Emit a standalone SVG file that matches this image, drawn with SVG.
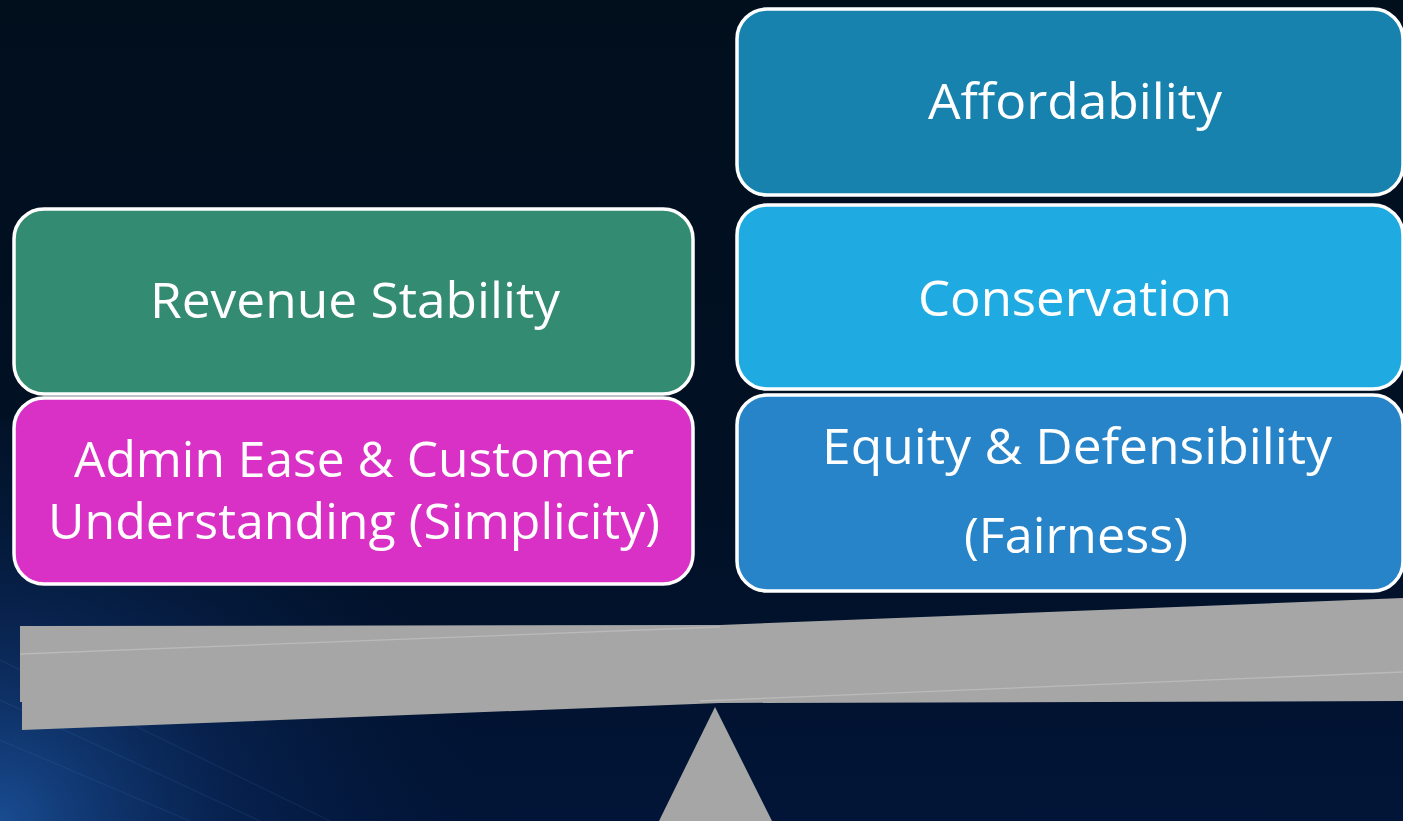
<svg xmlns="http://www.w3.org/2000/svg" width="1403" height="821" viewBox="0 0 1403 821">
<style>
.box{stroke:#ffffff;stroke-width:3.5}
.lbl{font-family:"Open Sans","Noto Sans","Liberation Sans",sans-serif;font-size:50px;fill:#ffffff;text-anchor:middle}
.beam{fill:#a6a6a6}
.edge{stroke:#bababa;stroke-width:1.3;fill:none}
</style>
<defs>
<linearGradient id="bg" x1="0" y1="0" x2="0" y2="1">
<stop offset="0" stop-color="#010f1d"/>
<stop offset="0.6" stop-color="#011024"/>
<stop offset="1" stop-color="#021538"/>
</linearGradient>
<radialGradient id="glow" cx="0" cy="821" r="480" gradientUnits="userSpaceOnUse">
<stop offset="0" stop-color="#1f5aa8" stop-opacity="0.8"/>
<stop offset="0.45" stop-color="#0f3470" stop-opacity="0.45"/>
<stop offset="1" stop-color="#031a40" stop-opacity="0"/>
</radialGradient>
</defs>
<rect x="0" y="0" width="1403" height="821" fill="url(#bg)"/>
<rect x="0" y="420" width="1403" height="401" fill="url(#glow)"/>
<g opacity="0.1" stroke="#5f9be0" stroke-width="1.2">
<line x1="0" y1="700" x2="260" y2="821"/>
<line x1="0" y1="740" x2="190" y2="821"/>
<line x1="0" y1="660" x2="330" y2="821"/>
</g>

<g id="beam">
<polygon class="beam" points="20,626 720,625 1403,598 1403,701 720,703 22,730 22,702 20,702"/>
<line class="edge" x1="20" y1="654" x2="720" y2="627"/>
<line class="edge" x1="700" y1="701" x2="1403" y2="672"/>
</g>
<g id="fulcrum">
<polygon class="beam" points="715,707 772,821 659,821"/>
</g>

<g id="revenue-stability">
<rect class="box" x="14" y="209" width="679" height="185" rx="30" fill="#338b72"/>
<text class="lbl" x="355" y="318" textLength="410" lengthAdjust="spacingAndGlyphs">Revenue Stability</text>
</g>
<g id="admin-ease">
<rect class="box" x="14" y="398" width="679" height="186" rx="30" fill="#d930c5"/>
<text class="lbl" x="354" y="477" textLength="560" lengthAdjust="spacingAndGlyphs">Admin Ease &amp; Customer</text>
<text class="lbl" x="354" y="539" textLength="612" lengthAdjust="spacingAndGlyphs">Understanding (Simplicity)</text>
</g>
<g id="affordability">
<rect class="box" x="737" y="9" width="666" height="186" rx="30" fill="#1782ae"/>
<text class="lbl" x="1075" y="119" textLength="294" lengthAdjust="spacingAndGlyphs">Affordability</text>
</g>
<g id="conservation">
<rect class="box" x="737" y="205" width="666" height="184" rx="30" fill="#1fabe2"/>
<text class="lbl" x="1075" y="316" textLength="314" lengthAdjust="spacingAndGlyphs">Conservation</text>
</g>
<g id="equity">
<rect class="box" x="737" y="395" width="666" height="196" rx="30" fill="#2884c8"/>
<text class="lbl" x="1077" y="464" textLength="510" lengthAdjust="spacingAndGlyphs">Equity &amp; Defensibility</text>
<text class="lbl" x="1076" y="553" textLength="224" lengthAdjust="spacingAndGlyphs">(Fairness)</text>
</g>
<g id="connectors"/>
</svg>
